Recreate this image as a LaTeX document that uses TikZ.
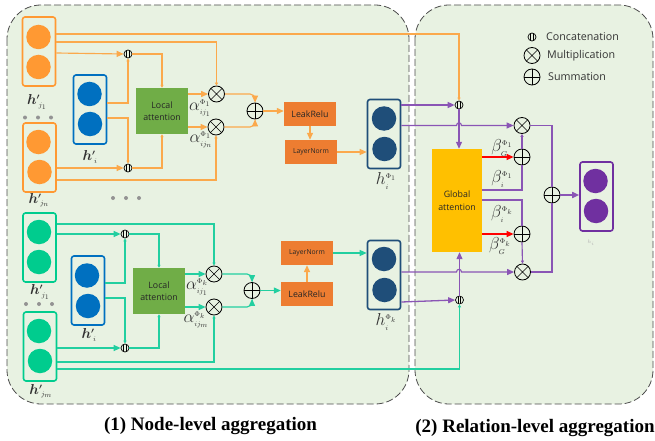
\documentclass[tikz,border=0pt]{standalone}
\usepackage{fontspec}
\usepackage{amsmath}
\setmainfont{Liberation Serif}
\newfontfamily\uifont{Open Sans}
\usetikzlibrary{arrows.meta,calc}
\DeclareMathSizes{17.28}{17.28}{9}{7}
\DeclareMathSizes{14.4}{14.4}{8}{7}
\definecolor{panelbg}{HTML}{E8F2E2}
\definecolor{orgc}{HTML}{FF9933}
\definecolor{orgl}{HTML}{FBA94C}
\definecolor{grnc}{HTML}{00CC8E}
\definecolor{grnl}{HTML}{22CFA0}
\definecolor{bluc}{HTML}{0070C0}
\definecolor{navc}{HTML}{1F4E79}
\definecolor{purc}{HTML}{7030A0}
\definecolor{purl}{HTML}{8A55B5}
\definecolor{boxo}{HTML}{ED7D31}
\definecolor{boxg}{HTML}{70AD47}
\definecolor{boxy}{HTML}{FFC000}
\definecolor{txt}{HTML}{333333}
\newcommand{\sss}{\scriptscriptstyle}
\tikzset{
  x=1pt,y=-1pt,
  panel/.style={draw=black!70,dash pattern=on 7pt off 3pt,line width=.8pt,fill=panelbg,rounded corners=34pt},
  vecbox/.style={draw=#1,line width=1.6pt,rounded corners=2.5pt,minimum width=33pt,minimum height=69pt,inner sep=0pt},
  dotc/.style={circle,fill=#1,draw=none,minimum size=24.5pt,inner sep=0pt},
  gdot/.style={circle,fill=gray!85,minimum size=4pt,inner sep=0pt},
  opbox/.style={fill=#1,inner sep=0pt,align=center,text=black!85,font=\uifont\fontsize{8.8}{12.5}\selectfont},
  normbox/.style={fill=boxo,inner sep=0pt,align=center,text=black!85,minimum width=52pt,minimum height=24pt,font=\uifont\fontsize{6.8}{8}\selectfont},
  conc/.style={circle,draw=black,line width=.7pt,minimum size=8pt,inner sep=0pt,fill=panelbg,
    path picture={\draw[line width=.9pt] ([xshift=-1.2pt]path picture bounding box.north)--([xshift=-1.2pt]path picture bounding box.south)
      ([xshift=1.2pt]path picture bounding box.north)--([xshift=1.2pt]path picture bounding box.south);}},
  mult/.style={circle,draw=black,line width=.8pt,minimum size=16pt,inner sep=0pt,
    path picture={\draw[line width=.6pt] (path picture bounding box.north west)--(path picture bounding box.south east)
      (path picture bounding box.north east)--(path picture bounding box.south west);}},
  summ/.style={circle,draw=black,line width=.8pt,minimum size=16pt,inner sep=0pt,
    path picture={\draw[line width=.6pt] (path picture bounding box.north)--(path picture bounding box.south)
      (path picture bounding box.east)--(path picture bounding box.west);}},
  lab/.style={inner sep=0pt,text=txt,font=\fontsize{14.4}{16}\selectfont},
  biglab/.style={inner sep=0pt,text=txt,font=\fontsize{17.28}{18}\selectfont},
  captext/.style={inner sep=0pt,font=\fontsize{19}{21}\selectfont\bfseries},
  legendtext/.style={inner sep=0pt,anchor=west,text=black!80,font=\uifont\fontsize{10.7}{12}\selectfont},
  tipb/.style={-{Triangle[length=7pt,width=6pt]}},
  tips/.style={-{Triangle[length=3pt,width=3pt]}},
  oln/.style={draw=orgl,line width=1.15pt},
  gln/.style={draw=grnl,line width=1.15pt},
  pln/.style={draw=purl,line width=1.15pt},
}
\begin{document}
\begin{tikzpicture}
\useasboundingbox (0,0) rectangle (655,441);
\draw[panel] (7,5) rectangle (409,404);
\draw[panel] (415,5) rectangle (653,404);

% upper input vectors
\node[vecbox=orgc] (a1) at (39,51.5) {};
\node[dotc=orgc] (a1t) at (38.5,37) {};
\node[dotc=orgc] (a1b) at (38.5,67) {};
\node[vecbox=orgc] (a2) at (39.5,157.5) {};
\node[dotc=orgc] (a2t) at (38.5,142) {};
\node[dotc=orgc] (a2b) at (39.5,172) {};
\node[vecbox=bluc] (ai) at (90,109.5) {};
\node[dotc=bluc] (ait) at (89.5,94) {};
\node[dotc=bluc] (aib) at (90,124) {};
\node[conc] (ac1) at (128,54) {};
\node[conc] (ac2) at (128,168) {};
\node[opbox=boxg,minimum width=52pt,minimum height=46pt] (al) at (162,111) {Local\\attention};
\node[mult] (am1) at (216.5,94) {};
\node[mult] (am2) at (216,127) {};
\node[summ] (as) at (255,111) {};
\node[opbox=boxo,minimum width=52pt,minimum height=24pt] (alr) at (310,114) {LeakRelu};
\node[normbox] (aln) at (311,152) {LayerNorm};
\node[vecbox=navc] (ah) at (384,134) {};
\node[dotc=navc] (aht) at (384,118.5) {};
\node[dotc=navc] (ahb) at (384.5,149) {};

% lower input vectors
\node[vecbox=grnc] (b1) at (39.5,247.5) {};
\node[dotc=grnc] (b1t) at (39,232) {};
\node[dotc=grnc] (b1b) at (39,262) {};
\node[vecbox=grnc] (b2) at (40,346.5) {};
\node[dotc=grnc] (b2t) at (39,331) {};
\node[dotc=grnc] (b2b) at (40,361) {};
\node[vecbox=bluc] (bi) at (88,290.5) {};
\node[dotc=bluc] (bit) at (87,275.5) {};
\node[dotc=bluc] (bib) at (88,306) {};
\node[conc] (bc1) at (125,234) {};
\node[conc] (bc2) at (125,348) {};
\node[opbox=boxg,minimum width=52pt,minimum height=46pt] (bl) at (159,291) {Local\\attention};
\node[mult] (bm1) at (214,274) {};
\node[mult] (bm2) at (214,307) {};
\node[summ] (bs) at (252,290.5) {};
\node[normbox] (bln) at (307,253) {LayerNorm};
\node[opbox=boxo,minimum width=52pt,minimum height=24pt] (blr) at (307,294) {LeakRelu};
\node[vecbox=navc] (bh) at (384,275) {};
\node[dotc=navc] (bht) at (384,259) {};
\node[dotc=navc] (bhb) at (384.5,290) {};

% right panel
\node[opbox=boxy,minimum width=50pt,minimum height=103pt] (ga) at (457,200.5) {Global\\attention};
\node[conc] (rc1) at (459,105) {};
\node[conc] (rc2) at (459.5,300) {};
\node[mult] (rm1) at (522,125.5) {};
\node[summ] (rs1) at (522,157) {};
\node[summ] (rs2) at (522,234) {};
\node[mult] (rm2) at (522.5,272) {};
\node[summ] (rs) at (552,195) {};
\node[vecbox=purc] (rv) at (596.5,196.5) {};
\node[dotc=purc] (rvt) at (595.5,181) {};
\node[dotc=purc] (rvb) at (596,211) {};

% upper connectors
\draw[oln,tips] (a1.east |- 0,34) -- (rc1 |- 0,34) -- (rc1.north);
\draw[oln,tips] (a1.east |- 0,42) -- (am1 |- 0,42) -- (am1.north);
\draw[oln,tipb] (a1.east |- 0,53) -- (ac1.west);
\draw[oln,tips] (ai.east |- 0,103) -- (ac1 |- 0,103) -- (ac1.south);
\draw[oln,tips] (ai.east |- 0,118) -- (ac2 |- 0,118) -- (ac2.north);
\draw[oln,tips] (ac1.east) -- (al.north |- ac1) -- (al.north);
\draw[oln,tips] (ac2.east) -- (al.south |- ac2) -- (al.south);
\draw[oln,tipb] (a2.east |- 0,168) -- (ac2.west);
\draw[oln,tips] (a2.east |- 0,180) -- (am2 |- 0,180) -- (am2.south);
\draw[oln,tipb] (al.east |- am1) -- (am1.west);
\draw[oln,tipb] (al.east |- am2) -- (am2.west);
\draw[oln,tipb,rounded corners=5pt] (am1.east) -- (as |- am1) -- (as.north);
\draw[oln,tipb,rounded corners=5pt] (am2.east) -- (as |- am2) -- (as.south);
\draw[oln,tipb] (as.east) -- (alr.west |- as);
\draw[oln,tipb] (alr.south) -- (alr.south |- aln.north);
\draw[oln,tipb] (aln.east) -- (ah.west |- aln);

% lower connectors
\draw[gln,tips] (b1.east |- 0,224) -- (bm1 |- 0,224) -- (bm1.north);
\draw[gln,tipb] (b1.east |- 0,234) -- (bc1.west);
\draw[gln,tips] (bi.east |- 0,283) -- (bc1 |- 0,283) -- (bc1.south);
\draw[gln,tips] (bi.east |- 0,298) -- (bc2 |- 0,298) -- (bc2.north);
\draw[gln,tips] (bc1.east) -- (bl.north |- bc1) -- (bl.north);
\draw[gln,tips] (bc2.east) -- (bl.south |- bc2) -- (bl.south);
\draw[gln,tipb] (b2.east |- 0,348) -- (bc2.west);
\draw[gln,tips] (b2.east |- 0,362) -- (bm2 |- 0,362) -- (bm2.south);
\draw[gln,tips] (b2.east |- 0,369) -- (rc2 |- 0,369) -- (rc2.south);
\draw[gln,tipb] (bl.east |- bm1) -- (bm1.west);
\draw[gln,tipb] (bl.east |- bm2) -- (bm2.west);
\draw[gln,tipb,rounded corners=5pt] (bm1.east) -- (bs |- bm1) -- (bs.north);
\draw[gln,tipb,rounded corners=5pt] (bm2.east) -- (bs |- bm2) -- (bs.south);
\draw[gln,tipb] (bs.east) -- (blr.west |- bs);
\draw[orgl,line width=1.4pt,tipb] (blr.north) -- (bln.south);
\draw[gln,tipb] (bln.east) -- (bh.west |- bln);

% right connectors
\draw[pln,tipb,line width=1.3pt] (ah.east |- rc1) -- (rc1.west);
\draw[pln,tipb] (ah.east |- rm1) -- (456.5,125.5) .. controls (456.5,122) and (461.5,122) .. (461.5,125.5) -- (rm1.west);
\draw[pln,tipb] (rc1.south) -- (rc1 |- ga.north);
\draw[pln,tipb] (bh.east |- rm2) -- (456.5,272) .. controls (456.5,268.5) and (461.5,268.5) .. (461.5,272) -- (rm2.west);
\draw[pln,tipb,line width=1.3pt] (bh.east |- 0,302) -- (rc2.west);
\draw[pln,tipb] (rc2.north) -- (rc2 |- ga.south);
\draw[red,line width=1.1pt,tipb] (ga.east |- rs1) -- (rs1.west);
\draw[red,line width=1.1pt,tipb] (ga.east |- rs2) -- (rs2.west);
\draw[pln] (ga.east |- 0,190) -- (rs1 |- 0,190) -- (rs1.south);
\draw[pln] (ga.east |- 0,200) -- (rs2 |- 0,200) -- (rs2.north);
\draw[pln,tips] (rs1.north) -- (rm1.south);
\draw[pln,tips] (rs2.south) -- (rm2.north);
\draw[pln] (rm1.east) -- (rs |- rm1) -- (rs.north);
\draw[pln] (rm2.east) -- (rs |- rm2) -- (rs.south);
\draw[purl,line width=1.6pt,tipb] (rs.east) -- (rv.west |- rs);

% dots
\node[gdot] (d1) at (25,117.5) {}; \node[gdot] (d2) at (38,117.5) {}; \node[gdot] (d3) at (51,117.5) {};
\node[gdot] (d4) at (113,198) {}; \node[gdot] (d5) at (126,198) {}; \node[gdot] (d6) at (139,198) {};
\node[gdot] (d7) at (26,304) {}; \node[gdot] (d8) at (39,304) {}; \node[gdot] (d9) at (52,304) {};

% labels
\node[lab] (l1) at (37,102) {$\boldsymbol{h'}_{\!\sss j_1}$};
\node[lab] (l2) at (90,157) {$\boldsymbol{h'}_{\!\sss i}$};
\node[lab] (l3) at (39,200) {$\boldsymbol{h'}_{\!\sss j_n}$};
\node[lab] (l4) at (40,292) {$\boldsymbol{h'}_{\!\sss j_1}$};
\node[lab] (l5) at (89,335) {$\boldsymbol{h'}_{\!\sss i}$};
\node[lab] (l6) at (41,391) {$\boldsymbol{h'}_{\!\sss j_m}$};
\node[biglab] (l7) at (200,108) {$\alpha_{\sss ij_1}^{\sss\Phi_1}$};
\node[biglab] (l8) at (201,140) {$\alpha_{\sss ij_n}^{\sss\Phi_1}$};
\node[biglab] (l9) at (197,287) {$\alpha_{\sss ij_1}^{\sss\Phi_k}$};
\node[biglab] (l10) at (196,320) {$\alpha_{\sss ij_m}^{\sss\Phi_k}$};
\node[biglab] (l11) at (386,181) {$h_{\sss i}^{\sss\Phi_1}$};
\node[biglab] (l12) at (386,322) {$h_{\sss i}^{\sss\Phi_k}$};
\node[biglab] (l13) at (502,148) {$\beta_{\sss G}^{\sss\Phi_1}$};
\node[biglab] (l14) at (502,179) {$\beta_{\sss i}^{\sss\Phi_1}$};
\node[biglab] (l15) at (502,214) {$\beta_{\sss i}^{\sss\Phi_k}$};
\node[biglab] (l16) at (500,246) {$\beta_{\sss G}^{\sss\Phi_k}$};
\node[inner sep=0pt,text=gray!60,font=\fontsize{4}{4}\selectfont] (l17) at (591,243) {$h_i$};

% legend
\node[conc,fill=none] (k1) at (532,37) {};
\node[mult] (k2) at (532,55.5) {};
\node[summ] (k3) at (532,77) {};
\node[legendtext] (t1) at (546,36.5) {Concatenation};
\node[legendtext] (t2) at (547,56) {Multiplication};
\node[legendtext] (t3) at (548,77) {Summation};

% captions
\node[captext] (c1) at (210.5,425.5) {(1) Node-level aggregation};
\node[captext] (c2) at (535,428) {(2) Relation-level aggregation};
\end{tikzpicture}
\end{document}
